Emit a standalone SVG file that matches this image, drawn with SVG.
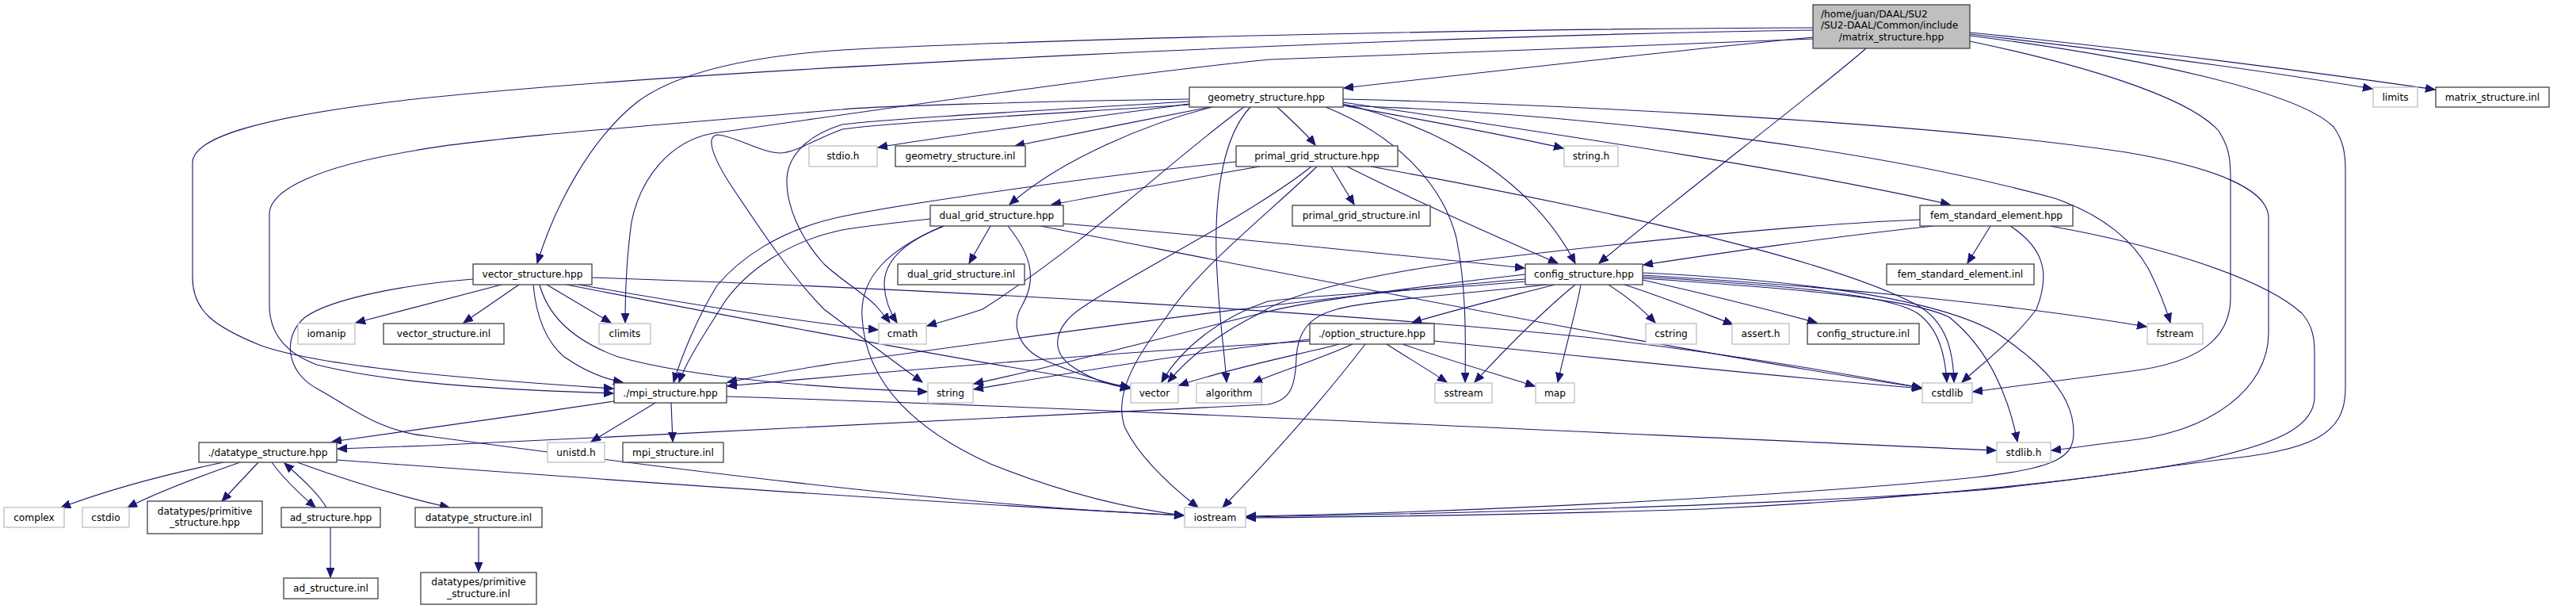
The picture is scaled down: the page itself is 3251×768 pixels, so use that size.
<svg xmlns="http://www.w3.org/2000/svg" width="3251" height="768" viewBox="0 0 3251 768">
<style>
rect{fill:#fff;stroke-width:1.3}
.b rect{stroke:#404040}
.g rect{stroke:#bfbfbf}
.r rect{fill:#bfbfbf;stroke:#404040}
text{font-family:"DejaVu Sans","Liberation Sans",sans-serif;font-size:12.2px;fill:#000;text-anchor:middle}
#edges path{fill:none;stroke:#191970;stroke-width:1.1;marker-end:url(#a)}
</style>
<defs>
<marker id="a" markerUnits="userSpaceOnUse" markerWidth="13" markerHeight="11" refX="12" refY="5" orient="auto"><path d="M0,0 L12,5 L0,10 z" fill="#191970" stroke="#191970" stroke-width="1"/></marker>
</defs>
<rect x="0" y="0" width="3251" height="768" style="fill:#fff;stroke:none"/>
<g id="edges">
<path d="M2288,47 C2150,60 1900,88 1696,111"/>
<path d="M2288,35 C1900,36 1350,48 1063,63 C930,72 850,95 805,128 C745,175 700,260 678,332"/>
<path d="M2288,38 C1800,45 900,85 523,125 C320,148 243,175 243,205 L243,350 C243,392 270,412 330,436 C410,464 620,480 774,490"/>
<path d="M2288,49 C2100,58 1750,68 1603,75 C1400,95 1100,140 900,168 C845,178 808,225 797,280 C790,330 789,380 789,407"/>
<path d="M2355,61 C2300,110 2100,262 2018,332"/>
<path d="M2486,43 C2650,62 2850,88 2994,112"/>
<path d="M2486,41 C2700,62 2950,95 3073,113"/>
<path d="M2486,52 C2620,80 2760,120 2800,165 C2813,185 2815,200 2815,225 L2815,375 C2815,430 2770,458 2690,468 C2610,478 2540,488 2490,494"/>
<path d="M2486,45 C2700,72 2900,115 2945,160 C2958,178 2960,195 2960,215 L2960,490 C2960,550 2915,568 2800,580 C2700,592 2650,603 2500,618 C2200,640 1800,648 1573,652"/>
<path d="M1501,131 C1400,145 1200,170 1108,186"/>
<path d="M1527,135 C1450,150 1350,170 1281,184"/>
<path d="M1612,135 C1630,152 1648,168 1660,183"/>
<path d="M1695,133 C1800,152 1900,170 1973,187"/>
<path d="M1530,135 C1450,155 1340,200 1274,258"/>
<path d="M1695,131 C1840,165 1940,240 1988,332"/>
<path d="M1695,129 C1900,160 2250,210 2461,258"/>
<path d="M1695,133 C1900,140 2300,170 2593,250 C2650,270 2690,300 2712,340 C2726,368 2734,390 2739,407"/>
<path d="M1695,125 C1900,130 2400,150 2683,192 C2800,212 2863,240 2863,275 L2863,420 C2863,490 2790,545 2683,556 C2640,561 2615,565 2589,568"/>
<path d="M1673,135 C1760,170 1820,230 1838,300 C1850,360 1850,420 1849,482"/>
<path d="M1578,135 C1545,170 1533,240 1535,320 C1537,390 1545,440 1548,482"/>
<path d="M1570,135 C1480,200 1380,300 1240,390 C1210,400 1190,405 1170,411"/>
<path d="M1501,125 C1300,128 1100,134 1063,138 C800,160 600,175 523,190 C400,210 340,240 340,270 L340,385 C340,420 360,445 400,460 C500,485 650,492 774,496"/>
<path d="M1501,128 C1300,140 1120,150 1063,157 C1020,170 995,195 993,225 C992,260 1010,300 1040,333 C1060,352 1090,370 1105,385 C1112,393 1118,400 1123,407"/>
<path d="M1501,132 C1300,145 1120,155 1063,163 C1030,175 1005,192 985,193 C960,193 925,170 905,170 C893,172 895,190 920,230 C960,290 1000,350 1040,390 C1080,420 1120,450 1164,482"/>
<path d="M1250,285 L1223,332"/>
<path d="M1192,285 C1140,305 1115,330 1116,360 C1117,380 1124,395 1132,407"/>
<path d="M1174,276 C1120,282 1085,286 1063,290 C990,305 940,345 915,380 C890,420 866,455 857,482"/>
<path d="M1272,285 C1300,320 1310,350 1290,385 C1275,410 1285,440 1320,455 C1360,472 1390,482 1426,489"/>
<path d="M1342,282 C1500,295 1750,320 1924,338"/>
<path d="M1313,285 C1700,360 2100,440 2425,489"/>
<path d="M1190,285 C1120,315 1085,350 1088,400 C1092,480 1150,540 1250,585 C1350,625 1430,642 1494,650"/>
<path d="M1680,210 L1709,258"/>
<path d="M1590,210 C1500,225 1400,245 1327,258"/>
<path d="M1560,204 C1400,220 1150,255 1063,273 C980,290 930,330 905,360 C880,400 860,450 850,482"/>
<path d="M1655,210 C1580,270 1420,350 1370,385 C1330,410 1325,440 1350,460 C1375,478 1400,486 1426,490"/>
<path d="M1662,210 C1600,270 1510,340 1472,400 C1430,455 1405,500 1420,540 C1440,580 1480,615 1512,640"/>
<path d="M1700,210 C1780,250 1880,295 1966,332"/>
<path d="M1730,210 C1950,250 2300,320 2420,385 C2455,405 2465,440 2466,482"/>
<path d="M2512,285 L2483,332"/>
<path d="M2440,285 C2300,300 2180,318 2074,334"/>
<path d="M2423,277 C2300,282 2100,300 1850,330 C1700,350 1620,375 1590,395 C1540,420 1500,450 1474,482"/>
<path d="M2537,285 C2575,310 2590,340 2570,390 C2540,430 2500,460 2476,482"/>
<path d="M2587,285 C2700,305 2850,345 2905,395 C2918,410 2921,425 2921,445 L2921,500 C2921,540 2870,560 2780,580 C2650,605 2400,630 2150,642 C1900,650 1700,652 1573,653"/>
<path d="M1962,359 C1900,375 1830,392 1782,407"/>
<path d="M2030,359 C2055,375 2075,392 2089,407"/>
<path d="M2050,359 C2100,375 2150,395 2187,409"/>
<path d="M2073,353 C2150,370 2230,390 2293,407"/>
<path d="M2073,347 C2300,360 2550,385 2709,412"/>
<path d="M1988,359 C1950,390 1900,440 1861,482"/>
<path d="M1995,359 C1990,390 1975,440 1966,482"/>
<path d="M2073,349 C2250,360 2380,370 2420,395 C2448,415 2455,450 2457,482"/>
<path d="M2073,351 C2250,363 2410,375 2460,400 C2510,440 2535,500 2546,557"/>
<path d="M2073,344 C2300,355 2450,380 2520,420 C2580,460 2617,500 2617,545 C2617,575 2600,590 2493,602 C2300,622 1900,645 1573,651"/>
<path d="M1953,359 C1850,370 1720,380 1687,390 C1650,400 1638,420 1636,450 C1635,485 1630,505 1600,510 C1300,525 900,545 540,562 C480,564 450,565 426,566"/>
<path d="M1925,352 C1700,370 1400,410 1063,457 C1000,466 950,476 918,482"/>
<path d="M1925,346 C1800,360 1650,380 1600,393 C1450,430 1320,465 1229,484"/>
<path d="M1925,355 C1800,366 1650,372 1600,380 C1540,400 1490,440 1466,482"/>
<path d="M1653,430 C1400,445 1100,470 918,487"/>
<path d="M1653,428 C1500,445 1350,470 1229,491"/>
<path d="M1690,434 C1650,445 1560,462 1488,486"/>
<path d="M1707,434 C1660,455 1610,470 1581,483"/>
<path d="M1723,434 C1680,490 1620,560 1543,640"/>
<path d="M1750,434 C1775,450 1800,465 1826,482"/>
<path d="M1770,434 C1830,455 1890,472 1937,487"/>
<path d="M1810,430 C2000,450 2250,475 2425,490"/>
<path d="M775,506 C650,525 500,545 419,557"/>
<path d="M827,508 L746,557"/>
<path d="M847,508 L849,557"/>
<path d="M917,500 C1400,515 2100,550 2519,568"/>
<path d="M597,352 C520,358 420,375 385,400 C355,425 362,470 400,490 C440,512 480,545 540,550 C800,585 1200,638 1494,650"/>
<path d="M633,359 L449,407"/>
<path d="M655,359 L585,407"/>
<path d="M690,359 L771,407"/>
<path d="M673,359 C676,392 686,428 712,450 C738,468 762,478 786,482"/>
<path d="M681,359 C692,400 725,430 780,450 C880,478 1050,490 1170,494"/>
<path d="M730,359 C850,380 1000,405 1108,416"/>
<path d="M715,359 C900,395 1200,452 1426,488"/>
<path d="M747,350 C1200,365 1700,395 2000,425 C2200,448 2350,475 2425,489"/>
<path d="M282,583 C200,600 130,620 77,640"/>
<path d="M303,583 C260,598 200,620 161,640"/>
<path d="M326,583 L280,632"/>
<path d="M343,583 C355,600 375,620 398,640"/>
<path d="M375,583 C430,603 500,625 567,640"/>
<path d="M425,580 C700,600 1100,630 1494,650"/>
<path d="M412,640 C400,620 380,603 359,584"/>
<path d="M417,665 L417,728"/>
<path d="M604,665 L604,721"/>
</g>
<g id="root" class="r"><rect x="2288" y="6" width="198" height="55"/><text x="2298" y="21.5" style="text-anchor:start">/home/juan/DAAL/SU2</text><text x="2298" y="36" style="text-anchor:start">/SU2-DAAL/Common/include</text><text x="2387" y="50.5">/matrix_structure.hpp</text></g>
<g id="geometry_structure_hpp" class="b"><rect x="1501" y="110" width="194" height="25"/><text x="1598" y="127">geometry_structure.hpp</text></g>
<g id="limits" class="g"><rect x="2995" y="110" width="56" height="25"/><text x="3023" y="127">limits</text></g>
<g id="matrix_structure_inl" class="b"><rect x="3074" y="110" width="143" height="25"/><text x="3145.5" y="127">matrix_structure.inl</text></g>
<g id="stdio_h" class="g"><rect x="1021" y="184" width="86" height="26"/><text x="1064" y="201.3">stdio.h</text></g>
<g id="geometry_structure_inl" class="b"><rect x="1130" y="184" width="164" height="26"/><text x="1212" y="201.3">geometry_structure.inl</text></g>
<g id="primal_grid_structure_hpp" class="b"><rect x="1560" y="184" width="204" height="26"/><text x="1662" y="201.3">primal_grid_structure.hpp</text></g>
<g id="string_h" class="g"><rect x="1974" y="184" width="68" height="26"/><text x="2008" y="201.3">string.h</text></g>
<g id="dual_grid_structure_hpp" class="b"><rect x="1174" y="259" width="168" height="26"/><text x="1258" y="276.3">dual_grid_structure.hpp</text></g>
<g id="primal_grid_structure_inl" class="b"><rect x="1631" y="259" width="174" height="26"/><text x="1718" y="276.3">primal_grid_structure.inl</text></g>
<g id="fem_standard_element_hpp" class="b"><rect x="2423" y="259" width="193" height="26"/><text x="2519.5" y="276.3">fem_standard_element.hpp</text></g>
<g id="vector_structure_hpp" class="b"><rect x="597" y="333" width="150" height="26"/><text x="672" y="350.3">vector_structure.hpp</text></g>
<g id="dual_grid_structure_inl" class="b"><rect x="1133" y="333" width="160" height="26"/><text x="1213" y="350.3">dual_grid_structure.inl</text></g>
<g id="config_structure_hpp" class="b"><rect x="1925" y="333" width="148" height="26"/><text x="1999" y="350.3">config_structure.hpp</text></g>
<g id="fem_standard_element_inl" class="b"><rect x="2381" y="333" width="186" height="26"/><text x="2474" y="350.3">fem_standard_element.inl</text></g>
<g id="iomanip" class="g"><rect x="376" y="408" width="72" height="26"/><text x="412" y="425.3">iomanip</text></g>
<g id="vector_structure_inl" class="b"><rect x="484" y="408" width="152" height="26"/><text x="560" y="425.3">vector_structure.inl</text></g>
<g id="climits" class="g"><rect x="756" y="408" width="65" height="26"/><text x="788.5" y="425.3">climits</text></g>
<g id="cmath" class="g"><rect x="1109" y="408" width="60" height="26"/><text x="1139" y="425.3">cmath</text></g>
<g id="option_structure_hpp" class="b"><rect x="1653" y="408" width="157" height="26"/><text x="1731.5" y="425.3">./option_structure.hpp</text></g>
<g id="cstring" class="g"><rect x="2077" y="408" width="64" height="26"/><text x="2109" y="425.3">cstring</text></g>
<g id="assert_h" class="g"><rect x="2186" y="408" width="72" height="26"/><text x="2222" y="425.3">assert.h</text></g>
<g id="config_structure_inl" class="b"><rect x="2281" y="408" width="141" height="26"/><text x="2351.5" y="425.3">config_structure.inl</text></g>
<g id="fstream" class="g"><rect x="2710" y="408" width="70" height="26"/><text x="2745" y="425.3">fstream</text></g>
<g id="mpi_structure_hpp" class="b"><rect x="775" y="483" width="142" height="25"/><text x="846" y="500">./mpi_structure.hpp</text></g>
<g id="string" class="g"><rect x="1171" y="483" width="57" height="25"/><text x="1199.5" y="500">string</text></g>
<g id="vector" class="g"><rect x="1427" y="483" width="60" height="25"/><text x="1457" y="500">vector</text></g>
<g id="algorithm" class="g"><rect x="1510" y="483" width="82" height="25"/><text x="1551" y="500">algorithm</text></g>
<g id="sstream" class="g"><rect x="1811" y="483" width="72" height="25"/><text x="1847" y="500">sstream</text></g>
<g id="map" class="g"><rect x="1938" y="483" width="49" height="25"/><text x="1962.5" y="500">map</text></g>
<g id="cstdlib" class="g"><rect x="2426" y="483" width="63" height="25"/><text x="2457.5" y="500">cstdlib</text></g>
<g id="datatype_structure_hpp" class="b"><rect x="251" y="558" width="174" height="25"/><text x="338" y="575">./datatype_structure.hpp</text></g>
<g id="unistd_h" class="g"><rect x="691" y="558" width="72" height="25"/><text x="727" y="575">unistd.h</text></g>
<g id="mpi_structure_inl" class="b"><rect x="786" y="558" width="127" height="25"/><text x="849.5" y="575">mpi_structure.inl</text></g>
<g id="stdlib_h" class="g"><rect x="2520" y="558" width="68" height="25"/><text x="2554" y="575">stdlib.h</text></g>
<g id="complex" class="g"><rect x="5" y="640" width="76" height="25"/><text x="43" y="657">complex</text></g>
<g id="cstdio" class="g"><rect x="104" y="640" width="59" height="25"/><text x="133.5" y="657">cstdio</text></g>
<g id="primitive_structure_hpp" class="b"><rect x="186" y="632" width="145" height="41"/><text x="258.5" y="648.5">datatypes/primitive</text><text x="258.5" y="662.5">_structure.hpp</text></g>
<g id="ad_structure_hpp" class="b"><rect x="355" y="640" width="125" height="25"/><text x="417.5" y="657">ad_structure.hpp</text></g>
<g id="datatype_structure_inl" class="b"><rect x="524" y="640" width="160" height="25"/><text x="604" y="657">datatype_structure.inl</text></g>
<g id="iostream" class="g"><rect x="1495" y="640" width="77" height="25"/><text x="1533.5" y="657">iostream</text></g>
<g id="ad_structure_inl" class="b"><rect x="358" y="729" width="119" height="26"/><text x="417.5" y="746.3">ad_structure.inl</text></g>
<g id="primitive_structure_inl" class="b"><rect x="531" y="722" width="146" height="40"/><text x="604" y="738">datatypes/primitive</text><text x="604" y="752.5">_structure.inl</text></g>
</svg>
